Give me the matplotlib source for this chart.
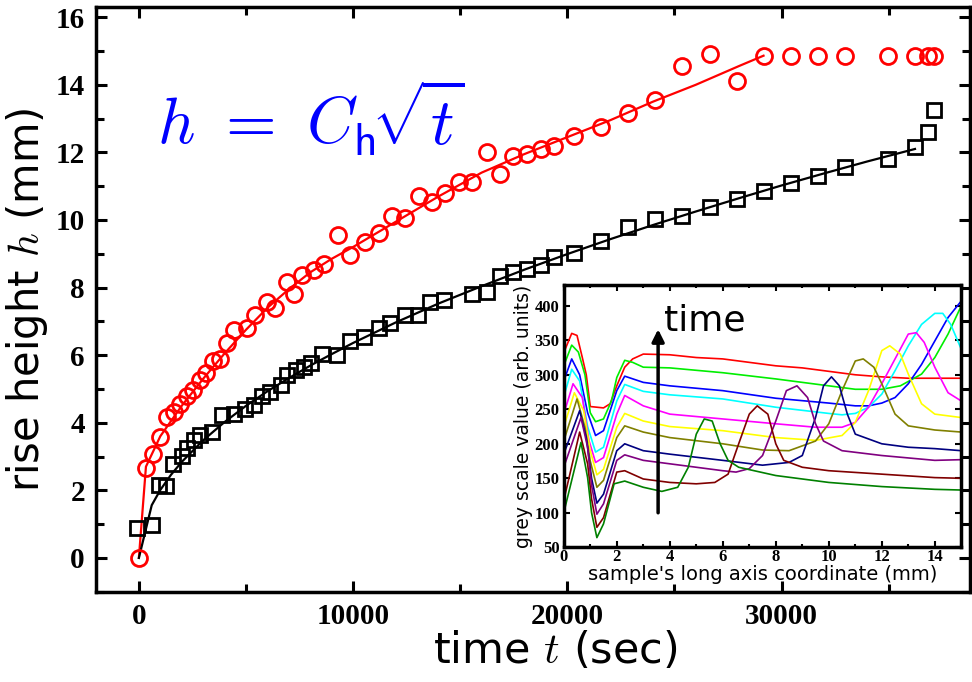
import matplotlib
matplotlib.use('Agg')
import matplotlib.pyplot as plt

plt.rcParams['mathtext.fontset'] = 'cm'

# main plot: rise height vs time
t_red = [0, 327, 654, 995, 1308, 1617, 1930, 2243, 2523, 2832, 3145, 3458, 3800, 4112,
         4421, 5047, 5435, 5981, 6369, 6916, 7224, 7617, 8159, 8626, 9280, 9874, 10575,
         11196, 11822, 12444, 13065, 13692, 14313, 14935, 15560, 16229, 16850, 17477,
         18131, 18752, 19374, 20308, 21589, 22832, 24079, 25374, 26650, 27911, 29159,
         30435, 31682, 32973, 34981, 36229, 36822, 37132]
h_red = [0, 2.67, 3.06, 3.59, 4.17, 4.31, 4.54, 4.79, 4.98, 5.25, 5.48, 5.83, 5.9, 6.36,
         6.73, 6.79, 7.18, 7.57, 7.38, 8.17, 7.82, 8.36, 8.51, 8.71, 9.55, 8.96, 9.35,
         9.6, 10.11, 10.07, 10.7, 10.54, 10.79, 11.13, 11.13, 12.02, 11.36, 11.89,
         11.95, 12.1, 12.2, 12.48, 12.74, 13.17, 13.55, 14.56, 14.91, 14.12, 14.86,
         14.86, 14.86, 14.86, 14.86, 14.86, 14.86, 14.86]

t_blk = [-100, 607, 916, 1276, 1589, 2009, 2243, 2551, 2832, 3411, 3879, 4421, 4967, 5388,
         5748, 6103, 6650, 6916, 7350, 7724, 8037, 8551, 9252, 9874, 10495, 11196, 11743,
         12444, 13019, 13612, 14234, 15560, 16229, 16850, 17477, 18131, 18752, 19374,
         20308, 21589, 22832, 24079, 25374, 26650, 27911, 29159, 30435, 31682, 32973,
         34981, 36229, 36822, 37103]
h_blk = [0.88, 0.98, 2.17, 2.14, 2.78, 3.03, 3.26, 3.48, 3.65, 3.72, 4.22, 4.27, 4.41, 4.51,
         4.79, 4.91, 5.13, 5.4, 5.57, 5.65, 5.78, 6.02, 5.99, 6.41, 6.54, 6.81, 6.95,
         7.18, 7.18, 7.57, 7.62, 7.82, 7.87, 8.33, 8.46, 8.56, 8.66, 8.89,
         9.03, 9.38, 9.8, 10.04, 10.11, 10.39, 10.61, 10.86, 11.1, 11.3, 11.57,
         11.8, 12.17, 12.61, 13.25]

# fitted curves
t_red_fit = [0, 330, 1000, 2000, 3000, 4000, 5000, 6000, 7000, 8000, 9000, 10000, 12000,
             14000, 16000, 18000, 20000, 22000, 24000, 26000, 28000, 29159]
h_red_fit = [0, 2.7, 3.6, 4.5, 5.3, 6.05, 6.75, 7.4, 7.95, 8.45, 8.85, 9.2, 9.95,
             10.7, 11.4, 11.95, 12.45, 12.95, 13.5, 14.0, 14.55, 14.86]
t_blk_fit = [0, 600, 1000, 1500, 2000, 3000, 4000, 5000, 6000, 7000, 8000, 9000, 10000,
             12000, 14000, 16000, 18000, 20000, 22000, 24000, 26000, 28000, 30000,
             32000, 34000, 36229]
h_blk_fit = [0, 1.56, 2.01, 2.46, 2.84, 3.48, 4.02, 4.5, 4.93, 5.32, 5.69, 6.03, 6.36,
             6.97, 7.53, 8.04, 8.53, 8.99, 9.43, 9.85, 10.25, 10.64, 11.02,
             11.38, 11.73, 12.1]

# inset: grey scale profiles (x in mm), latest first
prof_colors = ['#ff0000', '#00ee00', '#0000ff', '#00ffff', '#ff00ff', '#ffff00',
               '#808000', '#000080', '#800080', '#800000', '#008000']
prof_x = [
    [0, 0.3, 0.5, 0.7, 0.85, 1.0, 1.5, 1.75, 2.0, 2.3, 2.6, 3.0, 4, 5, 6, 7, 8, 9, 10, 11, 12, 13, 15],
    [0, 0.3, 0.55, 0.8, 1.0, 1.2, 1.5, 1.8, 2.0, 2.3, 2.6, 3, 4, 6, 8, 10, 11, 12, 12.7, 13.5, 14, 14.5, 15],
    [0, 0.3, 0.6, 0.9, 1.2, 1.5, 2.0, 2.3, 3, 4, 6, 8, 10, 11, 11.5, 12, 12.5, 13, 13.5, 14, 14.5, 15],
    [0, 0.3, 0.6, 0.9, 1.2, 1.5, 2.0, 2.3, 3, 4, 6, 8, 10, 10.5, 11, 11.5, 12, 12.5, 13, 13.5, 14, 14.3, 14.6, 15],
    [0, 0.35, 0.7, 0.95, 1.2, 1.5, 2.0, 2.3, 3, 4, 6, 8, 9.5, 10.5, 11, 11.5, 12, 12.5, 13, 13.3, 13.6, 14, 14.5, 15],
    [0, 0.4, 0.75, 1.0, 1.25, 1.5, 2.0, 2.3, 3, 4, 6, 8, 9.5, 10.5, 11, 11.5, 12, 12.3, 12.7, 13, 13.5, 14, 15],
    [0, 0.5, 0.8, 1.0, 1.25, 1.5, 2.0, 2.3, 3, 4, 6, 7.5, 8.5, 9.5, 10, 10.5, 11, 11.3, 11.7, 12, 12.5, 13, 14, 15],
    [0, 0.6, 0.85, 1.05, 1.25, 1.5, 2.0, 2.3, 3, 4, 6, 7.5, 8.5, 9.0, 9.5, 9.8, 10.1, 10.4, 10.7, 11, 12, 13, 14, 15],
    [0, 0.65, 0.9, 1.05, 1.25, 1.5, 2.0, 2.3, 3, 4, 5, 6, 6.5, 7, 7.5, 8, 8.4, 8.8, 9.2, 9.5, 9.8, 10.5, 12, 14, 15],
    [0, 0.6, 0.9, 1.05, 1.25, 1.5, 2.0, 2.3, 3, 4, 5, 5.7, 6.2, 6.6, 7.0, 7.3, 7.7, 8.0, 8.3, 9, 10, 12, 14, 15],
    [0, 0.65, 0.9, 1.05, 1.25, 1.5, 1.9, 2.3, 3, 3.7, 4.3, 4.7, 5.0, 5.3, 5.6, 5.9, 6.2, 6.6, 8, 10, 12, 14, 15],
]
prof_y = [
    [332, 360, 357, 325, 300, 254, 252, 258, 284, 311, 323, 330, 329, 325, 323, 318, 313, 310, 305, 300, 297, 295, 295],
    [313, 343, 333, 300, 245, 232, 236, 262, 296, 321, 318, 311, 310, 303, 294, 284, 279, 279, 284, 301, 325, 359, 400],
    [291, 323, 300, 245, 212, 219, 277, 298, 289, 284, 277, 266, 259, 255, 255, 259, 267, 287, 315, 349, 383, 407],
    [268, 308, 291, 225, 188, 195, 262, 286, 276, 271, 265, 253, 244, 242, 244, 253, 272, 306, 342, 373, 389, 389, 373, 337],
    [243, 287, 267, 205, 173, 180, 243, 270, 255, 243, 236, 229, 224, 224, 231, 253, 287, 323, 359, 361, 347, 311, 274, 262],
    [224, 274, 248, 190, 155, 163, 224, 244, 233, 225, 219, 209, 205, 212, 231, 277, 335, 342, 330, 301, 258, 243, 238],
    [204, 265, 224, 175, 137, 147, 209, 226, 217, 209, 200, 191, 190, 204, 229, 277, 320, 323, 311, 287, 243, 226, 220, 217],
    [185, 248, 209, 150, 114, 127, 190, 200, 190, 185, 176, 169, 173, 183, 238, 284, 297, 284, 243, 214, 200, 195, 193, 190],
    [166, 238, 195, 140, 98, 113, 176, 184, 176, 171, 166, 161, 159, 164, 183, 233, 277, 284, 267, 229, 204, 190, 183, 176, 177],
    [118, 217, 171, 120, 79, 93, 159, 161, 149, 144, 142, 144, 156, 200, 243, 255, 243, 200, 176, 166, 161, 156, 151, 150],
    [100, 202, 151, 100, 64, 84, 142, 146, 137, 131, 137, 166, 214, 236, 233, 200, 176, 166, 154, 144, 138, 134, 133],
]

fig = plt.figure(figsize=(9.72, 6.82), dpi=100)
ax = fig.add_axes([0.0988, 0.1324, 0.8992, 0.8573])

ax.plot(t_red_fit, h_red_fit, '-', color='red', lw=1.6, zorder=2)
ax.plot(t_blk_fit, h_blk_fit, '-', color='black', lw=1.6, zorder=2)
ax.plot(t_red, h_red, 'o', ms=11.5, mfc='none', mec='red', mew=2, zorder=3)
ax.plot(t_blk, h_blk, 's', ms=10, mfc='none', mec='black', mew=2, zorder=3)

ax.set_xlim(-2000, 38800)
ax.set_ylim(-1, 16.3)
ax.set_xticks([0, 10000, 20000, 30000])
ax.set_xticks([5000, 15000, 25000, 35000], minor=True)
ax.set_yticks(range(0, 17, 2))
ax.set_yticks(range(-1, 17, 2), minor=True)
ax.tick_params(which='both', direction='in', top=True, right=True, width=2.2)
ax.tick_params(which='major', length=8, labelsize=21, pad=8)
ax.tick_params(which='minor', length=6)
plt.setp(ax.get_xticklabels() + ax.get_yticklabels(), family='Liberation Serif', weight='bold')
for s in ax.spines.values():
    s.set_linewidth(2.5)

ax.set_xlabel('time $t$ (sec)', fontsize=31, labelpad=2)
ax.xaxis.set_label_coords(0.525, -0.065)
ax.set_ylabel('rise height $h$ (mm)', fontsize=30, labelpad=4)

ax.text(830, 13.0, r'$h\ =\ C_{\mathsf{h}}\!\sqrt{t}$', color='blue', fontsize=47,
        ha='left', va='center')

# inset
ins = fig.add_axes([0.580, 0.1975, 0.409, 0.3845])
for xs, ys, c in zip(prof_x, prof_y, prof_colors):
    ins.plot(xs, ys, '-', color=c, lw=1.2)
ins.set_xlim(0, 15)
ins.set_ylim(50, 430)
ins.set_xticks(range(0, 15, 2))
ins.set_xticks(range(1, 16, 2), minor=True)
ins.set_yticks(range(50, 401, 50))
ins.tick_params(which='both', direction='in', top=True, right=True, width=1.5)
ins.tick_params(which='major', length=4, labelsize=12)
ins.tick_params(axis='x', pad=1.5)
ins.tick_params(axis='y', pad=3)
ins.tick_params(which='minor', length=2.5)
plt.setp(ins.get_xticklabels() + ins.get_yticklabels(), family='Liberation Serif', weight='bold')
for s in ins.spines.values():
    s.set_linewidth(2.5)
ins.set_xlabel("sample's long axis coordinate (mm)", fontsize=14, labelpad=0)
ins.set_ylabel('grey scale value (arb. units)', fontsize=13.5, labelpad=1)

ins.annotate('', xy=(3.56, 370), xytext=(3.56, 96),
             arrowprops=dict(arrowstyle='-|>', color='black', lw=2.5, mutation_scale=18))
ins.text(3.8, 378, 'time', fontsize=26, ha='left', va='center')

fig.savefig('out.png', dpi=100)
